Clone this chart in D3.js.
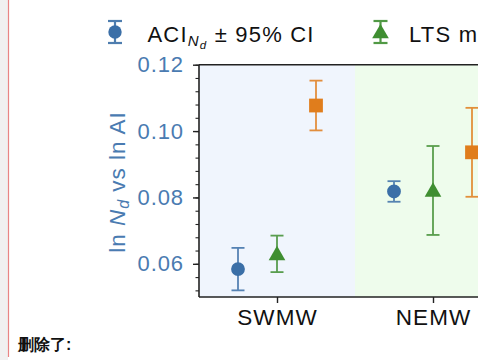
<!DOCTYPE html>
<html>
<head>
<meta charset="utf-8">
<script src="https://cdn.jsdelivr.net/npm/d3@7/dist/d3.min.js"></script>
<style>
  html, body { margin: 0; padding: 0; background: #ffffff; }
  svg { display: block; }
  text { font-family: "Liberation Sans", Arial, Helvetica, sans-serif; }
</style>
</head>
<body>
<svg id="chart" width="486" height="360"></svg>
<script>
// Regions along the x axis
const categories = ["SWMW", "NEMW"];

// ACI sensitivity (mean and 95% CI half-width)
const aciMean = [0.0584, 0.0818];
const aciErr  = [0.0064, 0.0031];

// LTS-based estimate
const ltsMean = [0.0630, 0.0821];
const ltsErr  = [0.0055, 0.0134];

// Third estimate (orange squares)
const thirdMean = [0.1077, 0.0936];
const thirdErr  = [0.0075, 0.0134];

const yTicks = [0.06, 0.08, 0.10, 0.12];
const yMinorTicks = d3.range(0.052, 0.1201, 0.004);

const series = [
  { mean: aciMean,   err: aciErr,   offset: -0.25, color: "#3b6fa7", shape: d3.symbolCircle },
  { mean: ltsMean,   err: ltsErr,   offset:  0.00, color: "#3f8e31", shape: d3.symbolTriangle },
  { mean: thirdMean, err: thirdErr, offset:  0.25, color: "#e07d1c", shape: d3.symbolSquare }
];

const svg = d3.select("#chart");

// page margin with the red revision bar
svg.append("rect").attr("x", 0).attr("y", 0).attr("width", 8).attr("height", 360).attr("fill", "#f1f1f1");
svg.append("line").attr("x1", 8.5).attr("x2", 8.5).attr("y1", 0).attr("y2", 357)
  .attr("stroke", "#e98585").attr("stroke-width", 1.2);

const plotLeft = 199, plotTop = 64.7, plotBottom = 297;
const x = d3.scaleLinear().domain([-0.5, 1.5]).range([plotLeft, plotLeft + 312]);
const y = d3.scaleLinear().domain([0.05, 0.12]).range([plotBottom, plotTop]);

// the figure is cut at the right edge
svg.append("defs").append("clipPath").attr("id", "cut")
  .append("rect").attr("x", 0).attr("y", 0).attr("width", 478).attr("height", 360);
const g = svg.append("g").attr("clip-path", "url(#cut)");

// shaded region backgrounds
const bg = ["#f0f5fd", "#eefcec"];
categories.forEach((c, i) => {
  g.append("rect")
    .attr("x", x(i - 0.5)).attr("y", y(0.12))
    .attr("width", x(i + 0.5) - x(i - 0.5)).attr("height", y(0.05) - y(0.12))
    .attr("fill", bg[i]);
});

// error bars and markers
series.forEach(s => {
  const grp = g.append("g");
  categories.forEach((c, i) => {
    const cx = x(i + s.offset);
    const lo = y(s.mean[i] - s.err[i]), hi = y(s.mean[i] + s.err[i]);
    const eb = grp.append("g").attr("stroke", s.color).attr("stroke-width", 1.8).attr("opacity", 0.85);
    eb.append("line").attr("x1", cx).attr("x2", cx).attr("y1", lo).attr("y2", hi);
    eb.append("line").attr("x1", cx - 6.5).attr("x2", cx + 6.5).attr("y1", lo).attr("y2", lo);
    eb.append("line").attr("x1", cx - 6.5).attr("x2", cx + 6.5).attr("y1", hi).attr("y2", hi);
    const size = s.shape === d3.symbolCircle ? 150 : (s.shape === d3.symbolSquare ? 190 : 120);
    grp.append("path")
      .attr("d", d3.symbol().type(s.shape).size(size)())
      .attr("transform", `translate(${cx},${y(s.mean[i]) + (s.shape === d3.symbolTriangle ? 1.5 : 0)})`)
      .attr("fill", s.color);
  });
});

// frame
g.append("line").attr("x1", plotLeft).attr("x2", 520).attr("y1", plotTop).attr("y2", plotTop)
  .attr("stroke", "#222").attr("stroke-width", 1.6);

// y axis
const yAxis = d3.axisLeft(y).tickValues(yTicks).tickFormat(d3.format(".2f")).tickSize(6).tickPadding(9);
const ya = svg.append("g").attr("transform", `translate(${plotLeft},0)`).call(yAxis);
ya.select(".domain").attr("stroke", "#222").attr("stroke-width", 1.6).attr("d", `M0,${plotTop}V${plotBottom}`);
ya.selectAll(".tick line").attr("stroke", "#222").attr("stroke-width", 1.4);
ya.selectAll(".tick text").attr("fill", "#4a7bb1").attr("font-size", 22).attr("letter-spacing", 0.9);
svg.append("g").attr("transform", `translate(${plotLeft},0)`)
  .call(d3.axisLeft(y).tickValues(yMinorTicks).tickSize(3.5).tickFormat(""))
  .call(a => a.select(".domain").remove())
  .selectAll(".tick line").attr("stroke", "#222").attr("stroke-width", 1.1);

// x axis
const xAxis = d3.axisBottom(x).tickValues(categories.map((c, i) => i))
  .tickFormat(i => categories[i]).tickSize(6).tickPadding(6);
const xa = g.append("g").attr("transform", `translate(0,${plotBottom})`).call(xAxis);
xa.select(".domain").attr("stroke", "#222").attr("stroke-width", 1.6).attr("d", `M${plotLeft},0H520`);
xa.selectAll(".tick line").attr("stroke", "#222").attr("stroke-width", 1.4);
xa.selectAll(".tick text").attr("fill", "#111").attr("font-size", 22.5).attr("letter-spacing", 1.1);

// y axis title
const yt = svg.append("text")
  .attr("transform", `translate(125,182) rotate(-90)`)
  .attr("text-anchor", "middle").attr("fill", "#4a7bb1").attr("font-size", 22.5).attr("letter-spacing", 1);
yt.append("tspan").text("ln ");
yt.append("tspan").attr("font-style", "italic").text("N");
yt.append("tspan").attr("font-style", "italic").attr("font-size", 16).attr("dy", 4).text("d");
yt.append("tspan").attr("dy", -4).text(" vs ln AI");

// legend
function legendMarker(cx, s) {
  const lg = svg.append("g").attr("stroke", s.color).attr("stroke-width", 2.2).attr("opacity", 0.9);
  lg.append("line").attr("x1", cx).attr("x2", cx).attr("y1", 21).attr("y2", 43);
  lg.append("line").attr("x1", cx - 7).attr("x2", cx + 7).attr("y1", 21).attr("y2", 21);
  lg.append("line").attr("x1", cx - 7).attr("x2", cx + 7).attr("y1", 43).attr("y2", 43);
  svg.append("path").attr("d", d3.symbol().type(s.shape).size(s.shape === d3.symbolCircle ? 140 : 120)())
    .attr("transform", `translate(${cx},${32 + (s.shape === d3.symbolTriangle ? 1.5 : 0)})`)
    .attr("fill", s.color);
}
legendMarker(115, series[0]);
const l1 = svg.append("text").attr("x", 147.5).attr("y", 41.5).attr("font-size", 22).attr("fill", "#111").attr("letter-spacing", 1.2);
l1.append("tspan").text("ACI");
l1.append("tspan").attr("font-style", "italic").attr("font-size", 15).attr("dy", 4).text("N");
l1.append("tspan").attr("font-style", "italic").attr("font-size", 11.5).attr("dy", 3).text("d");
l1.append("tspan").attr("dy", -7).text(" ± 95% CI");

legendMarker(380.5, series[1]);
svg.append("text").attr("x", 409).attr("y", 41.5).attr("font-size", 22).attr("fill", "#111")
  .attr("letter-spacing", 1.2).attr("clip-path", "url(#cut)").text("LTS m");

// revision note
svg.append("text").attr("x", 18).attr("y", 350).attr("font-size", 16).attr("font-weight", "900")
  .attr("font-family", "'Noto Sans CJK SC', sans-serif").attr("fill", "#111").text("删除了:");
</script>
</body>
</html>
